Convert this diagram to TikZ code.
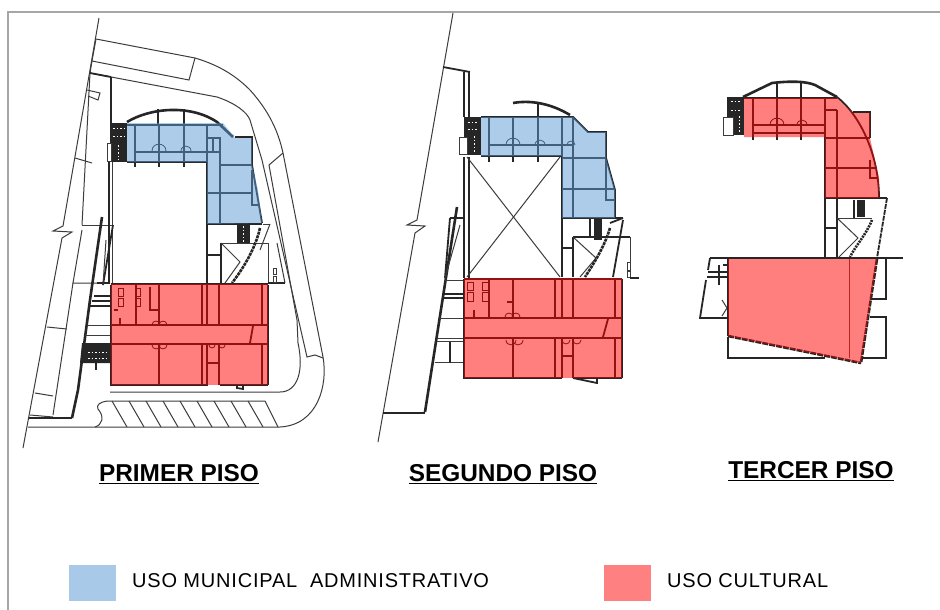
\documentclass[tikz,border=0pt]{standalone}
\usepackage{fontspec}
\setmainfont{Liberation Sans}
\definecolor{inkw}{HTML}{262626}
\definecolor{inkt}{HTML}{3C3C3C}
\definecolor{frameg}{HTML}{A6A6A6}
\definecolor{bluefill}{HTML}{5B9BD5}
\definecolor{redfill}{HTML}{FF0000}
\definecolor{legblue}{HTML}{A9C9E8}
\definecolor{legred}{HTML}{FF8080}
\tikzset{
 thinl/.style={draw=inkt,line width=1pt},
 wall/.style={draw=inkw,line width=1.8pt},
 hwall/.style={draw=inkw,line width=2.6pt},
 solidk/.style={fill=inkw,draw=none},
 flecks/.style={draw=white,line width=1pt,dash pattern=on 1.5pt off 2pt},
 fillb/.style={fill=bluefill,fill opacity=.5,draw=none},
 fillr/.style={fill=redfill,fill opacity=.5,draw=none},
 title/.style={font=\bfseries\fontsize{24.4}{26}\selectfont,inner sep=0pt,anchor=center},
 legend/.style={font=\addfontfeature{LetterSpace=4}\fontsize{20}{22}\selectfont,inner sep=0pt,anchor=west},
}
\newcommand{\dooru}[3]{\draw[draw=inkw,line width=.8pt] (#1-#3,#2) .. controls (#1-#3,#2-1.3*#3) and (#1+#3,#2-1.3*#3) .. (#1+#3,#2);}
\begin{document}
\begin{tikzpicture}[x=1pt,y=-1pt]
\useasboundingbox (0,0) rectangle (940,610);
\fill[white] (0,0) rectangle (940,610);
\draw[draw=frameg,line width=1.2pt] (8,610) -- (8,12) -- (940,12);

% ===== PRIMER PISO: plan =====
\draw[thinl] (99,18) -- (63,226) -- (53,231) -- (72,232) -- (62,238) -- (23,448);
\draw[thinl] (96,39) -- (195,58) .. controls (222,66) and (238,78) .. (250,90) .. controls (268,110) and (278,130) .. (283,153) -- (323,357) .. controls (328,385) and (318,425) .. (280,427) -- (28,427);
\draw[thinl] (96,39) -- (92,61) -- (189,80) -- (195,58);
\draw[thinl] (92,61) -- (90,73) -- (82,225);
\draw[thinl] (90,73) -- (217,97) .. controls (235,103) and (247,112) .. (250,120) -- (262,160) -- (307,357) -- (315,355) -- (323,358);
\draw[thinl] (283,153) -- (269,165) -- (297,320) -- (298,343);
\draw[thinl] (298,343) .. controls (304,370) and (298,392) .. (280,392) -- (110,392);
\draw[thinl] (107,401) -- (265,401) -- (278,427);
\draw[thinl] (107,401) .. controls (100,402) and (96,405) .. (98,409) .. controls (105,417) and (102,425) .. (95,427);
\foreach \k in {0,...,8} {\draw[thinl] ({112+17*\k},401) -- ({127+17*\k},427);}
\draw[thinl] (87,90) -- (100,93) -- (98,100) -- (88,96);
\draw[thinl] (75,158) -- (92,163);
\draw[thinl] (82,225) -- (113,225);
\draw[thinl] (82,230) -- (73,283) -- (110,283);
\draw[thinl] (73,283) -- (53,415);
\draw[thinl] (47,327) -- (67,329);
\draw[thinl] (35,393) -- (53,396);
\draw[thinl] (30,415) -- (53,417);
\draw[wall] (29,418) -- (72,418);
\draw[hwall] (72,418) -- (78,390) -- (90,300) -- (102,217);
\draw[wall] (82,353) -- (110,353);
\draw[thinl] (87,325) -- (110,325);
\draw[thinl] (85,335) -- (110,335);
\draw[wall] (94,296) -- (110,296);\draw[wall] (92,301) -- (110,301);\draw[wall] (90,306) -- (110,306);
\draw[wall] (97,283) -- (110,283);
\draw[wall] (111,77) -- (111,123);
\draw[wall] (90,73) -- (111,77);
\draw[wall] (109,162) -- (109,283);\draw[thinl] (112,162) -- (112,283);
\draw[wall] (113,225) -- (103,285);\draw[thinl] (103,285) -- (106,240);
% stair blocks
\fill[solidk] (110,123) rectangle (127,162);
\draw[flecks] (113,128) -- (125,128);\draw[flecks] (113,136) -- (125,136);\draw[flecks] (118,145) -- (118,160);
\draw[thinl,fill=white] (107,143) rectangle (111,161);
\fill[solidk] (82,343) -- (110,343) -- (110,363) -- (80,363) -- cycle;
\draw[flecks] (88,352) -- (106,352);\draw[flecks] (88,358) -- (106,358);
\draw[wall] (96,363) -- (96,370);
\fill[solidk] (237,224) rectangle (250,243);
\draw[flecks] (243,226) -- (243,242);
\draw[wall] (207,224) -- (207,283);
\draw[wall] (207,255) -- (221,255);
\draw[wall] (207,224) -- (262,224);
\draw[thinl] (221,243) -- (268,243) -- (268,283);
\draw[wall] (221,243) -- (221,283);
\draw[thinl] (221,243) -- (240,262) -- (225,283);
\draw[hwall,dash pattern=on 3pt off .8pt] (260,228) .. controls (255,250) and (242,270) .. (232,283);
\draw[thinl] (263,224) -- (270,224);\draw[thinl] (270,224) -- (260,250);
\draw[thinl] (277,243) -- (285,283);\draw[wall] (268,283) -- (285,283);
\draw[thinl] (273,268) rectangle (276,274);\draw[thinl] (273,276) rectangle (276,282);
\draw[wall] (237,385) -- (237,388) -- (243,389) -- (243,385);
% walls in blue
\draw[hwall] (127,122) .. controls (150,108) and (190,104) .. (217,122) -- (233,137);
\draw[wall] (158,109) -- (158,125);\draw[wall] (184,109) -- (184,125);
\draw[wall] (135,162) -- (135,167);\draw[wall] (159,162) -- (159,167);\draw[wall] (184,162) -- (184,167);
\draw[wall] (127,125) -- (223,125);\draw[wall] (127,162) -- (207,162) -- (207,224);
\draw[wall] (135,125) -- (135,162);\draw[wall] (159,125) -- (159,162);\draw[wall] (184,125) -- (184,162);
\draw[wall] (135,152) -- (220,152);
\draw[wall] (207,125) -- (207,224);\draw[hwall] (220,137) -- (220,224);
\draw[wall] (207,138) -- (220,138);\draw[wall] (213,138) -- (213,152);
\draw[wall] (235,137) -- (252,137) -- (252,165) -- (262,223);
\draw[hwall] (220,165) -- (252,165);\draw[hwall] (207,193) -- (252,193);
\draw[wall] (252,170) -- (252,205) -- (258,205);
\draw[wall] (222,224) -- (262,224);
\dooru{159}{151}{7}\dooru{186}{151}{5}
% walls in red
\draw[hwall] (111,284) -- (268,284);
\draw[wall] (111,285) -- (111,385) -- (208,385);
\draw[wall] (220,385) -- (268,385);
\draw[wall] (268,285) -- (268,385);\draw[wall] (262,285) -- (262,325);\draw[wall] (262,344) -- (262,385);
\draw[hwall] (111,325) -- (268,325);\draw[hwall] (111,344) -- (268,344);
\draw[wall] (159,285) -- (159,325);\draw[wall] (159,344) -- (159,385);
\draw[wall] (136,285) -- (136,325);\draw[wall] (150,287) -- (150,310) -- (152,310);
\draw[wall] (202,285) -- (202,325);\draw[wall] (202,344) -- (202,385);
\draw[hwall] (207,285) -- (207,325);\draw[wall] (207,344) -- (207,385);
\draw[hwall] (219,285) -- (219,325);\draw[wall] (219,344) -- (219,363);\draw[hwall] (219,363) -- (219,385);
\draw[hwall] (207,363) -- (219,363);
\draw[wall] (253,326) -- (250,343);
\draw[wall] (118,310) -- (114,310);\draw[wall] (120,318) -- (120,326);
\foreach \k in {0,1} {\draw[draw=inkw,line width=.9pt] ({118+\k*17},288) rectangle ({123+\k*17},296);\draw[draw=inkw,line width=.9pt] ({118+\k*17},298) rectangle ({123+\k*17},306);}
\draw[wall] (151,310) -- (158,310);
\dooru{156}{325}{4}\dooru{163}{325}{4}\dooru{163}{345}{-4}\dooru{156}{345}{-4}\dooru{212}{345}{-3}\dooru{222}{345}{-3}
% fills
\fill[fillb] (127,123) -- (223,123) -- (235,138) -- (252,138) -- (252,165) -- (258,190) -- (262,223) -- (207,224) -- (207,162) -- (127,162) -- cycle;
\fill[fillr] (111,284) rectangle (268,385);

% ===== SEGUNDO PISO: plan =====
\draw[thinl] (453,13) -- (417,220) -- (407,225) -- (425,226) -- (415,233) -- (378,442);
\draw[wall] (443,67) -- (470,72);
\draw[wall] (464,72) -- (464,117);\draw[wall] (469,72) -- (469,117);
\draw[wall] (464,157) -- (464,278);\draw[wall] (469,157) -- (469,278);
\fill[solidk] (464,117) rectangle (481,155);
\draw[flecks] (468,122) -- (478,122);\draw[flecks] (468,129) -- (478,129);\draw[flecks] (474,136) -- (474,153);
\draw[thinl,fill=white] (459,137) rectangle (467,154);
\draw[thinl] (467,157) -- (560,277);\draw[thinl] (560,157) -- (467,277);
\draw[hwall] (562,156) -- (562,277);
\draw[wall] (562,248) -- (573,248);
\draw[wall] (562,218) -- (623,218);
\fill[solidk] (594,218) rectangle (602,240);
\draw[wall] (590,218) -- (590,237);
\draw[wall] (573,237) -- (630,237);
\draw[wall] (573,237) -- (573,277);
\draw[thinl] (630,237) -- (630,272);
\draw[thinl] (573,237) -- (596,258) -- (580,277);
\draw[hwall,dash pattern=on 3pt off .8pt] (610,228) .. controls (605,245) and (595,262) .. (585,277);
\draw[wall] (623,220) -- (613,277);
\draw[wall] (610,223) -- (623,218);
\draw[thinl] (627,262) rectangle (630,270);\draw[thinl] (627,271) rectangle (630,277);
\draw[wall] (630,278) -- (639,278);
\draw[hwall] (457,207) -- (425,412);
\draw[wall] (450,218) -- (465,218);\draw[wall] (450,218) -- (445,278);
\draw[thinl] (460,225) -- (445,278);
\draw[hwall] (425,413) -- (383,413);
\draw[thinl] (445,280) -- (465,280);
\draw[wall] (444,294) -- (465,294);\draw[wall] (443,298) -- (465,298);
\draw[thinl] (438,318) -- (465,318);\draw[thinl] (437,338) -- (465,338);\draw[thinl] (435,362) -- (465,362);\draw[thinl] (437,341) -- (465,341);
\draw[wall] (450,342) -- (450,363);
\draw[hwall] (513,103) .. controls (530,100) and (550,103) .. (570,115);
\draw[wall] (538,102) -- (538,117);
\draw[wall] (489,156) -- (489,162);\draw[wall] (513,156) -- (513,162);\draw[wall] (538,156) -- (538,162);
\draw[wall] (481,117) -- (573,117) -- (588,132) -- (606,132) -- (606,158) -- (615,190) -- (615,218) -- (562,218);
\draw[wall] (481,156) -- (562,156);
\draw[wall] (489,117) -- (489,156);\draw[wall] (513,117) -- (513,156);\draw[wall] (538,117) -- (538,156);
\draw[wall] (562,117) -- (562,156);
\draw[wall] (573,117) -- (573,218);
\draw[wall] (489,145) -- (573,145);
\draw[hwall] (562,158) -- (606,158);\draw[hwall] (562,189) -- (615,189);
\draw[wall] (606,158) -- (606,200) -- (615,200);
\dooru{513}{145}{7}\dooru{540}{145}{5}\dooru{571}{145}{4}
\draw[hwall] (464,279) -- (622,279);
\draw[wall] (464,279) -- (464,378) -- (562,378);\draw[wall] (573,378) -- (622,378);\draw[wall] (622,279) -- (622,378);
\draw[wall] (615,279) -- (615,318);\draw[wall] (615,337) -- (615,378);
\draw[hwall] (464,318) -- (622,318);\draw[hwall] (464,338) -- (622,338);
\draw[wall] (513,279) -- (513,318);\draw[wall] (513,338) -- (513,378);
\draw[wall] (489,279) -- (489,318);
\draw[wall] (555,279) -- (555,318);\draw[wall] (555,338) -- (555,378);
\draw[wall] (562,279) -- (562,318);\draw[wall] (562,338) -- (562,378);
\draw[hwall] (573,279) -- (573,318);\draw[hwall] (573,338) -- (573,378);
\draw[wall] (562,356) -- (573,356);
\draw[wall] (507,302) -- (512,302);
\draw[wall] (608,319) -- (603,337);
\draw[wall] (474,310) -- (474,318);
\foreach \k in {0,1} {\draw[draw=inkw,line width=.9pt] ({467+\k*15},282) rectangle ({473+\k*15},290);\draw[draw=inkw,line width=.9pt] ({467+\k*15},292) rectangle ({473+\k*15},301);}
\dooru{509}{317}{4}\dooru{516}{317}{4}\dooru{511}{340}{-5}\dooru{518}{340}{-5}\dooru{566}{340}{-4}\dooru{577}{340}{-4}
\draw[wall] (573,378) -- (597,383);\draw[wall] (597,378) -- (597,384);
% fills
\fill[fillb] (481,117) -- (573,117) -- (588,132) -- (606,132) -- (606,158) -- (615,190) -- (615,218) -- (562,218) -- (562,156) -- (481,156) -- cycle;
\fill[fillr] (464,278) rectangle (622,378);

% ===== TERCER PISO: plan =====
\fill[solidk] (727,97) rectangle (744,135);
\draw[flecks] (731,101) -- (741,101);\draw[flecks] (731,110) -- (741,110);\draw[flecks] (739,116) -- (739,133);
\draw[thinl,fill=white] (723,117) rectangle (733,135);
\draw[hwall] (743,97) -- (772,83) .. controls (790,81) and (805,81) .. (815,85) -- (837,97);
\draw[wall] (837,97) .. controls (860,115) and (879,155) .. (879,198);
\draw[wall] (853,112) -- (870,112) -- (870,138);
\draw[wall] (777,83) -- (777,140);\draw[wall] (801,83) -- (801,140);\draw[wall] (753,98) -- (753,140);
\draw[wall] (744,98) -- (825,98);\draw[wall] (825,98) -- (837,98);
\draw[wall] (753,125) -- (825,125);\draw[wall] (753,133) -- (825,133);
\draw[wall] (825,98) -- (825,258);\draw[wall] (837,110) -- (837,258);\draw[wall] (825,110) -- (837,110);
\draw[wall] (825,138) -- (870,138);\draw[wall] (825,168) -- (875,168);
\draw[wall] (825,198) -- (887,198);
\draw[wall] (870,160) -- (870,178) -- (878,178);
\draw[wall] (825,228) -- (837,228);
\fill[solidk] (857,200) rectangle (865,217);
\draw[wall] (854,200) -- (854,218);
\draw[thinl] (837,218) -- (872,218);
\draw[thinl] (837,218) -- (858,238) -- (838,258);
\draw[hwall,dash pattern=on 2pt off 1pt] (872,220) .. controls (866,235) and (856,245) .. (850,257);
\draw[wall,dash pattern=on 5pt off 1pt] (887,198) -- (877,258);
\dooru{777}{125}{7}\dooru{802}{125}{5}
\draw[wall] (710,258) -- (903,258);
\draw[wall] (886,258) -- (886,299) -- (870,299);
\draw[wall] (870,317) -- (886,317) -- (886,358) -- (862,358);
\draw[wall] (710,258) -- (708,270);
\draw[wall] (706,280) -- (700,318) -- (728,318);
\draw[hwall] (708,272) -- (727,272);\draw[hwall] (707,277) -- (727,277);
\draw[wall] (719,265) -- (719,285);
\draw[wall] (723,265) -- (728,265);
\draw[thinl] (722,300) -- (727,308) -- (722,316);
\draw[wall] (728,337) -- (728,358) -- (825,358);
\draw[hwall,dash pattern=on 6pt off 1pt] (728,336) -- (861,363);
\draw[hwall,dash pattern=on 6pt off 1pt] (877,259) -- (861,363);
\draw[wall] (728,259) -- (728,336);
% fills
\fill[fillr] (744,98) -- (837,98) -- (853,113) -- (870,113) -- (870,138) -- (879,178) -- (879,198) -- (825,198) -- (825,137) -- (744,137) -- cycle;
\fill[fillr] (728,259) -- (877,259) -- (861,363) -- (728,336) -- cycle;
\draw[draw=redfill!60!black,line width=1pt,opacity=.7] (849,259) -- (849,358);

% ===== Labels =====
\node[title] (t1) at (179,474) {\underline{PRIMER PISO}};
\node[title] (t2) at (503,474) {\underline{SEGUNDO PISO}};
\node[title] (t3) at (811,471) {\underline{TERCER PISO}};
\node[fill=legblue,minimum width=47pt,minimum height=36pt,inner sep=0pt] (kb) at (92.5,583) {};
\node[fill=legred,minimum width=47pt,minimum height=36pt,inner sep=0pt] (kr) at (627.5,583) {};
\node[legend] (lb) at (132,581) {USO MUNICIPAL\ \ ADMINISTRATIVO};
\node[legend] (lr) at (667,581) {USO CULTURAL};
\end{tikzpicture}
\end{document}
